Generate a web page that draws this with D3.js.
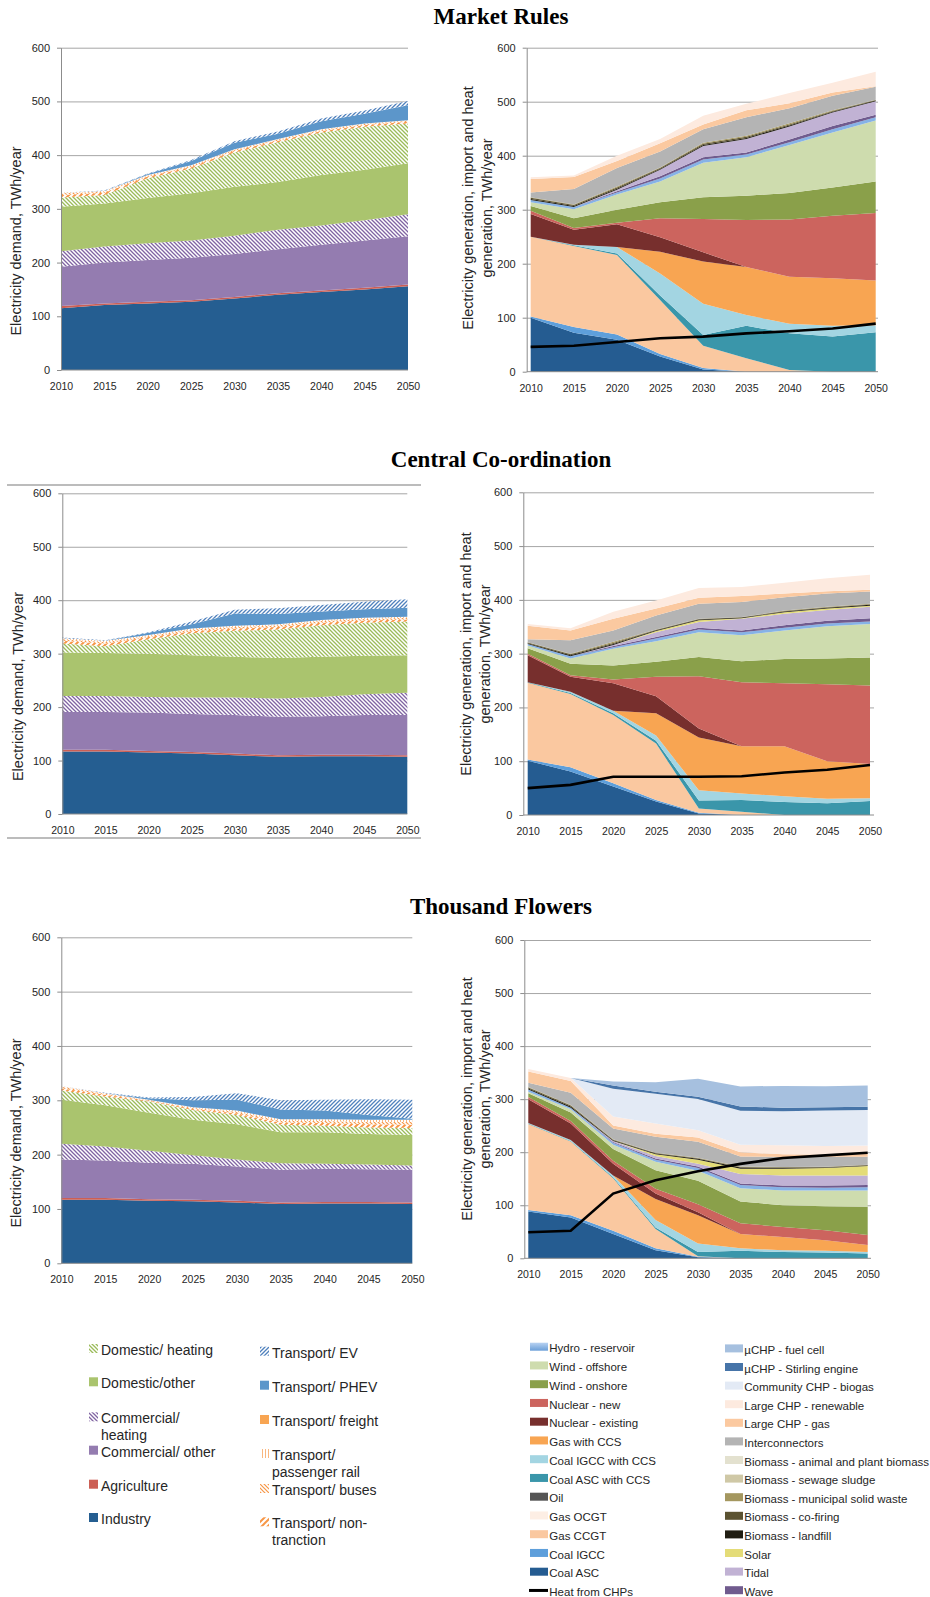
<!DOCTYPE html>
<html>
<head>
<meta charset="utf-8">
<script src="https://cdn.jsdelivr.net/npm/d3@7"></script>
<style>
  body { margin: 0; background: #fff; }
  svg text { font-family: "Liberation Sans", Arial, sans-serif; fill: #262626; }
  .title { font-family: "Liberation Serif", "Times New Roman", serif; font-weight: bold; fill: #000; }
</style>
</head>
<body>
<svg id="chart" width="930" height="1597"></svg>
<script>
// ---- data (TWh/year) ----
const years = [2010, 2015, 2020, 2025, 2030, 2035, 2040, 2045, 2050];
const scenarioTitles = ["Market Rules", "Central Co-ordination", "Thousand Flowers"];

// demand series, stack order bottom -> top
const demandNames = ["Industry", "Agriculture", "Commercial/ other", "Commercial/ heating",
  "Domestic/other", "Domestic/ heating", "Transport/ non-tranction", "Transport/ buses",
  "Transport/ passenger rail", "Transport/ freight", "Transport/ PHEV", "Transport/ EV"];

const mrDemand = [
  [115, 121, 124, 127, 133, 140, 145, 150, 156], // Industry
  [4, 3, 3, 3, 3, 3, 3, 3, 3],                   // Agriculture
  [73, 76, 78, 79, 80, 82, 85, 88, 90],          // Commercial/ other
  [29, 30, 31, 32, 34, 36, 36, 38, 41],          // Commercial/ heating
  [83, 80, 84, 88, 91, 89, 94, 94, 95],          // Domestic/other
  [17, 16, 37, 46, 64, 74, 79, 80, 74],          // Domestic/ heating
  [5, 4, 3, 3, 3, 3, 3, 3, 3],                   // non-traction
  [3, 2, 2, 2, 2, 2, 2, 2, 2],                   // buses
  [1, 1, 1, 1, 1, 1, 1, 1, 1],                   // passenger rail
  [0, 0, 0, 0, 0, 0, 0, 0, 0],                   // freight
  [0, 0, 2, 8, 12, 10, 15, 18, 28],              // PHEV
  [0, 1, 1, 2, 3, 4, 5, 6, 8]                    // EV
];
const ccDemand = [
  [117, 117, 115, 113, 110, 107, 108, 108, 107],
  [3, 3, 3, 3, 3, 3, 3, 3, 3],
  [71, 71, 72, 71, 72, 72, 72, 74, 75],
  [30, 30, 29, 31, 33, 34, 36, 39, 42],
  [81, 80, 81, 79, 76, 76, 75, 72, 70],
  [17, 13, 27, 41, 49, 53, 59, 62, 63],
  [5, 5, 4, 4, 4, 5, 5, 4, 4],
  [3, 3, 2, 3, 3, 3, 3, 3, 3],
  [2, 2, 2, 2, 2, 2, 2, 2, 2],
  [0, 0, 0, 0, 0, 0, 0, 0, 0],
  [0, 0, 4, 8, 23, 19, 16, 16, 17],
  [1, 1, 1, 5, 7, 11, 12, 14, 16]
];
const tfDemand = [
  [117, 117, 115, 114, 112, 109, 110, 110, 109],
  [3, 3, 3, 3, 3, 3, 3, 3, 3],
  [71, 69, 67, 66, 63, 60, 61, 60, 60],
  [29, 26, 22, 16, 13, 12, 9, 9, 8],
  [81, 76, 70, 65, 65, 57, 58, 56, 56],
  [17, 16, 21, 18, 17, 14, 12, 12, 13],
  [4, 3, 1, 2, 3, 4, 5, 6, 6],
  [3, 2, 1, 2, 3, 3, 4, 4, 5],
  [1, 1, 1, 1, 2, 3, 3, 4, 4],
  [0, 0, 0, 0, 0, 0, 0, 0, 0],
  [0, 0, 3, 13, 20, 18, 16, 9, 2],
  [0, 1, 1, 6, 12, 17, 20, 29, 35]
];

// generation series, stack order bottom -> top
const genNames = ["Coal ASC", "Coal IGCC", "Gas CCGT", "Gas OCGT", "Oil", "Coal ASC with CCS",
  "Coal IGCC with CCS", "Gas with CCS", "Nuclear - existing", "Nuclear - new", "Wind - onshore",
  "Wind - offshore", "Hydro - reservoir", "Wave", "Tidal", "Solar", "Biomass - landfill",
  "Biomass - co-firing", "Biomass - municipal solid waste", "Biomass - sewage sludge",
  "Biomass - animal and plant biomass", "Interconnectors", "Large CHP - gas",
  "Large CHP - renewable", "Community CHP - biogas", "\u00b5CHP - Stirling engine", "\u00b5CHP - fuel cell"];

const mrGen = [
  [100, 72, 59, 28, 4, 0, 0, 0, 0],      // Coal ASC
  [2, 11, 10, 5, 3, 0, 0, 0, 0],         // Coal IGCC
  [148, 150, 147, 100, 41, 25, 3, 0, 0], // Gas CCGT
  [0, 0, 0, 0, 0, 0, 0, 0, 0],           // Gas OCGT
  [0, 0, 0, 0, 0, 0, 0, 0, 0],           // Oil
  [0, 1, 3, 8, 20, 60, 68, 65, 73],      // Coal ASC CCS
  [0, 1, 12, 41, 58, 20, 18, 20, 13],    // Coal IGCC CCS
  [0, 0, 0, 40, 78, 89, 87, 88, 83],     // Gas CCS
  [42, 28, 42, 27, 17, 0, 0, 0, 0],      // Nuclear existing
  [6, 3, 3, 35, 62, 87, 106, 116, 125],  // Nuclear new
  [9, 18, 24, 30, 40, 45, 49, 52, 58],   // Wind onshore
  [7, 17, 28, 38, 64, 71, 89, 102, 113], // Wind offshore
  [4, 4, 4, 6, 6, 5, 5, 6, 6],           // Hydro
  [0, 0, 2, 4, 4, 4, 5, 6, 5],           // Wave
  [0, 0, 3, 12, 21, 25, 24, 25, 25],     // Tidal
  [0, 0, 0, 0, 0, 0, 0, 0, 0],           // Solar
  [2, 2, 2, 1.5, 2, 2, 2, 1.5, 1],       // Biomass landfill
  [2, 1.5, 2, 1.5, 2, 2, 2, 1.5, 1],     // Biomass co-firing
  [1, 1, 2, 1, 2, 2, 2, 1, 0.5],         // Biomass MSW
  [0, 0, 0, 0, 0, 0, 0, 0, 0],           // Biomass sewage
  [0, 0, 0, 0, 0, 0, 0, 0, 0],           // Biomass animal/plant
  [9, 29, 34, 30, 25, 34, 28, 27, 24],   // Interconnectors
  [25, 22, 13, 15, 9, 13, 9, 6, 1],      // Large CHP gas
  [3, 3, 10, 8, 16, 12, 19, 18, 27],     // Large CHP renewable
  [0, 0, 0, 0, 0, 0, 0, 0, 0],           // Community CHP
  [0, 0, 0, 0, 0, 0, 0, 0, 0],           // uCHP Stirling
  [0, 0, 0, 0, 0, 0, 0, 0, 0]            // uCHP fuel cell
];
const ccGen = [
  [101, 81, 53, 25, 3, 0, 0, 0, 0],
  [2, 8, 6, 3, 1, 0, 0, 0, 0],
  [143, 136, 127, 105, 8, 6, 0, 0, 0],
  [0, 0, 0, 0, 0, 0, 0, 0, 0],
  [0, 0, 0, 0, 0, 0, 0, 0, 0],
  [1, 2, 3, 5, 15, 22, 24, 22, 26],
  [0, 2, 5, 10, 19, 12, 11, 8, 5],
  [0, 0, 0, 41, 98, 88, 93, 70, 64],
  [50, 28, 51, 32, 17, 0, 0, 0, 0],
  [3, 3, 7, 36, 97, 119, 117, 143, 146],
  [10, 21, 26, 28, 36, 39, 45, 48, 52],
  [5, 10, 31, 38, 46, 48, 53, 60, 62],
  [3, 4, 3, 5, 5, 6, 5, 5, 5],
  [0, 0, 2, 3, 3, 3, 5, 5, 6],
  [0, 0, 2, 9, 11, 22, 21, 20, 21],
  [0, 0, 0, 2, 3, 1, 3, 3, 2],
  [1.5, 2, 2, 1.5, 1.5, 1, 1.5, 1.5, 2],
  [1, 2, 2, 1, 1, 0.5, 1, 1, 1],
  [0.5, 1, 2, 0.5, 0.5, 0.5, 0.5, 0.5, 0.7],
  [0, 0, 0, 0, 0, 0, 0, 0, 0],
  [0, 0, 0, 0, 0, 0, 0, 0, 0],
  [6, 25, 21, 26, 28, 28, 25, 25, 23],
  [25, 18, 22, 13, 11, 11, 7, 4, 3],
  [3, 4, 13, 15, 18, 17, 20, 24, 28],
  [0, 0, 0, 0, 0, 0, 0, 0, 0],
  [0, 0, 0, 0, 0, 0, 0, 0, 0],
  [0, 0, 0, 0, 0, 0, 0, 0, 0]
];
const tfGen = [
  [88, 77, 46, 15, 2, 0, 0, 0, 0],
  [3, 4, 6, 4, 1, 0, 0, 0, 0],
  [162, 139, 99, 36, 1, 0, 0, 0, 0],
  [0, 0, 0, 0, 0, 0, 0, 0, 0],
  [0, 0, 0, 0, 0, 0, 0, 0, 0],
  [1, 1, 2, 3, 8, 14, 12, 11, 9],
  [1, 2, 3, 14, 16, 5, 3, 3, 3],
  [0, 0, 0, 40, 53, 27, 25, 20, 13],
  [45, 31, 22, 10, 6, 0, 0, 0, 0],
  [4, 5, 6, 9, 15, 20, 19, 19, 19],
  [7, 16, 22, 35, 44, 41, 41, 45, 53],
  [3, 6, 8, 16, 19, 25, 28, 30, 31],
  [4, 3, 4, 4, 5, 6, 6, 5, 6],
  [0, 0, 1, 2, 3, 3, 3, 4, 4],
  [0, 0, 2, 5, 5, 18, 19, 19, 18],
  [0, 0, 0, 3, 8, 10, 13, 14, 18],
  [2, 2, 1.5, 1.5, 1.5, 2, 1.5, 1, 1],
  [2, 2, 1, 1, 1, 1, 1, 1, 1],
  [1, 1, 1, 0.5, 1, 1, 0.5, 0.5, 0.5],
  [0, 0, 0, 0, 0, 0, 0, 0, 0],
  [0, 0, 0, 0, 0, 0, 0, 0, 0],
  [8, 23, 20, 30, 30, 19, 19, 19, 15],
  [21, 22, 6, 6, 8, 8, 5, 4, 5],
  [5, 6, 17, 19, 14, 14, 17, 16, 16],
  [0, 0, 52, 56, 59, 64, 64, 67, 67],
  [0, 0, 6, 4, 4, 8, 7, 6, 6],
  [0, 0, 8, 18, 34, 38, 41, 40, 40]
];

// heat from CHPs (line)
const mrHeat = [46, 48, 55, 62, 65, 71, 75, 80, 89];
const ccHeat = [50, 56, 71, 71, 71, 72, 79, 84, 93];
const tfHeat = [49, 52, 122, 147, 164, 178, 189, 194, 199];

// ---- styles ----
const demandFill = ["#255e91", "#cc5f55", "#947cb0", "url(#h-comm)", "#aac46e", "url(#h-dom)",
  "url(#h-nontrac)", "url(#h-bus)", "url(#h-rail)", "#f8a552", "#5c96ca", "url(#h-ev)"];

const genColor = ["#255c91", "#5e9fdb", "#fac8a0", "#fdeee4", "#555555", "#3a96aa",
  "#a3d5e2", "#f8a552", "#772f2d", "#cc645e", "#8aa04a", "#cedcae", "#86b2e6", "#705b8e",
  "#c1b2d4", "#e4dc78", "#201d12", "#5b5231", "#a4975f", "#cfc8a6", "#e3e1cf", "#b4b4b4",
  "#fbc9a0", "#fdeadf", "#e3eaf5", "#4674a8", "#a6c0df"];

// ---- layout (px) ----
const panels = [
  { title: scenarioTitles[0], titleY: 24.3, demand: mrDemand, gen: mrGen, heat: mrHeat,
    L: { x0: 61, x1: 408, top: 47.7, bot: 370, tx: 16, ty: 241 },
    R: { axis: 526.7, x0: 530.7, x1: 875.7, gridR: 878, top: 47.7, bot: 371.7, t1: 468, t2: 487, ty: 208 } },
  { title: scenarioTitles[1], titleY: 467.3, demand: ccDemand, gen: ccGen, heat: ccHeat,
    L: { x0: 62.3, x1: 407.3, top: 493.3, bot: 814, tx: 18, ty: 686.5 },
    R: { axis: 523.3, x0: 527.7, x1: 870, gridR: 874, top: 492.3, bot: 815, t1: 466, t2: 485, ty: 654 } },
  { title: scenarioTitles[2], titleY: 914.3, demand: tfDemand, gen: tfGen, heat: tfHeat,
    L: { x0: 61.3, x1: 412.3, top: 937.3, bot: 1263.3, tx: 16, ty: 1133 },
    R: { axis: 524.3, x0: 528.3, x1: 867.7, gridR: 871, top: 940, bot: 1258.3, t1: 466.7, t2: 485, ty: 1099 } }
];

const svg = d3.select("#chart");
const defs = svg.append("defs");

function addHatch(id, color, dir, size, sw) {
  const p = defs.append("pattern").attr("id", id)
    .attr("patternUnits", "userSpaceOnUse").attr("width", size).attr("height", size);
  p.append("rect").attr("width", size).attr("height", size).attr("fill", "#fff");
  const s = size;
  let d;
  if (dir === "/") d = `M0,${s} L${s},0 M${-s / 2},${s / 2} L${s / 2},${-s / 2} M${s / 2},${s * 1.5} L${s * 1.5},${s / 2}`;
  else if (dir === "\\") d = `M0,0 L${s},${s} M${-s / 2},${s / 2} L${s / 2},${s * 1.5} M${s / 2},${-s / 2} L${s * 1.5},${s / 2}`;
  else d = `M${s / 2},0 L${s / 2},${s}`;
  p.append("path").attr("d", d).attr("stroke", color).attr("stroke-width", sw).attr("fill", "none");
}
addHatch("h-dom", "#9bbb59", "\\", 4, 1.3);
addHatch("h-comm", "#8064a2", "\\", 4, 1.3);
addHatch("h-ev", "#4f81bd", "/", 4, 1.3);
addHatch("h-bus", "#f79646", "\\", 4, 1.2);
addHatch("h-nontrac", "#f79646", "/", 6, 2);
addHatch("h-rail", "#f9b780", "|", 3, 1);

const hydroGrad = defs.append("linearGradient").attr("id", "g-hydro")
  .attr("x1", 0).attr("y1", 0).attr("x2", 0).attr("y2", 1);
hydroGrad.append("stop").attr("offset", 0).attr("stop-color", "#b8d2f2");
hydroGrad.append("stop").attr("offset", 1).attr("stop-color", "#6a9ed8");

function stackRows(names, rows) {
  const data = years.map((yr, i) => {
    const o = { year: yr };
    names.forEach((n, k) => { o[n] = rows[k][i]; });
    return o;
  });
  return d3.stack().keys(names)(data);
}

function drawYAxis(g, y, axisX, gridR) {
  const ticks = d3.range(0, 601, 100);
  g.append("g").attr("transform", `translate(${axisX},0)`)
    .call(d3.axisLeft(y).tickValues(ticks.slice(1)).tickSize(-(gridR - axisX)).tickFormat(""))
    .call(a => a.select(".domain").remove())
    .call(a => a.selectAll("line").attr("stroke", "#a6a6a6"));
}

function drawAxesOnTop(g, x, y, axisX, gridR) {
  g.append("line").attr("x1", axisX).attr("x2", gridR).attr("y1", y(0)).attr("y2", y(0))
    .attr("stroke", "#8c8c8c");
  g.append("g").attr("transform", `translate(${axisX},0)`)
    .call(d3.axisLeft(y).tickValues(d3.range(0, 601, 100)).tickSize(4).tickSizeOuter(0).tickPadding(7))
    .call(a => a.select(".domain").attr("stroke", "#8c8c8c"))
    .call(a => a.selectAll("line").attr("stroke", "#8c8c8c"))
    .call(a => a.selectAll("text").attr("font-size", 11).attr("font-family", "Liberation Sans, Arial, sans-serif").attr("fill", "#262626"));
  g.append("g").attr("transform", `translate(0,${y(0)})`)
    .call(d3.axisBottom(x).tickValues(years).tickFormat(d3.format("d")).tickSize(0).tickPadding(12.5))
    .call(a => a.select(".domain").remove())
    .call(a => a.selectAll("text").attr("font-size", 10.5).attr("font-family", "Liberation Sans, Arial, sans-serif").attr("fill", "#262626"));
}

function yTitle(g, cx, cy, text) {
  g.append("text").attr("transform", `translate(${cx},${cy}) rotate(-90)`)
    .attr("text-anchor", "middle").attr("dy", "0.35em").attr("font-size", 14.5).text(text);
}

panels.forEach(p => {
  svg.append("text").attr("class", "title").attr("x", 501).attr("y", p.titleY)
    .attr("text-anchor", "middle").attr("font-size", 23).text(p.title);

  // demand chart
  const L = p.L;
  const gl = svg.append("g");
  const xl = d3.scaleLinear().domain([2010, 2050]).range([L.x0, L.x1]);
  const yl = d3.scaleLinear().domain([0, 600]).range([L.bot, L.top]);
  drawYAxis(gl, yl, L.x0, L.x1);
  const areaL = d3.area().x(d => xl(d.data.year)).y0(d => yl(d[0])).y1(d => yl(d[1]));
  gl.selectAll("path.layer").data(stackRows(demandNames, p.demand)).join("path")
    .attr("class", "layer").attr("d", areaL).attr("fill", (d, i) => demandFill[i]);
  drawAxesOnTop(gl, xl, yl, L.x0, L.x1);
  yTitle(gl, L.tx, L.ty, "Electricity demand, TWh/year");

  // generation chart
  const R = p.R;
  const gr = svg.append("g");
  const xr = d3.scaleLinear().domain([2010, 2050]).range([R.x0, R.x1]);
  const yr = d3.scaleLinear().domain([0, 600]).range([R.bot, R.top]);
  drawYAxis(gr, yr, R.axis, R.gridR);
  const areaR = d3.area().x(d => xr(d.data.year)).y0(d => yr(d[0])).y1(d => yr(d[1]));
  gr.selectAll("path.layer").data(stackRows(genNames, p.gen)).join("path")
    .attr("class", "layer").attr("d", areaR).attr("fill", (d, i) => genColor[i]);
  gr.append("path").datum(p.heat)
    .attr("d", d3.line().x((d, i) => xr(years[i])).y(d => yr(d)))
    .attr("fill", "none").attr("stroke", "#000").attr("stroke-width", 2.6);
  drawAxesOnTop(gr, xr, yr, R.axis, R.gridR);
  yTitle(gr, R.t1, R.ty, "Electricity generation, import and heat");
  yTitle(gr, R.t2, R.ty, "generation, TWh/year");
});

// frame lines round the Central Co-ordination demand chart
[485, 838].forEach(yy => svg.append("line").attr("x1", 7).attr("x2", 421).attr("y1", yy).attr("y2", yy)
  .attr("stroke", "#a6a6a6").attr("stroke-width", 1.5));

// ---- demand legend ----
const demandLegend = [
  { k: 5, x: 89, y: 1355, lines: ["Domestic/ heating"] },
  { k: 4, x: 89, y: 1388.3, lines: ["Domestic/other"] },
  { k: 3, x: 89, y: 1423.3, lines: ["Commercial/", "heating"] },
  { k: 2, x: 89, y: 1456.7, lines: ["Commercial/ other"] },
  { k: 1, x: 89, y: 1490.7, lines: ["Agriculture"] },
  { k: 0, x: 89, y: 1524, lines: ["Industry"] },
  { k: 11, x: 260, y: 1357.7, lines: ["Transport/ EV"] },
  { k: 10, x: 260, y: 1391.7, lines: ["Transport/ PHEV"] },
  { k: 9, x: 260, y: 1426, lines: ["Transport/ freight"] },
  { k: 8, x: 260, y: 1460, lines: ["Transport/", "passenger rail"] },
  { k: 7, x: 260, y: 1495, lines: ["Transport/ buses"] },
  { k: 6, x: 260, y: 1528.3, lines: ["Transport/ non-", "tranction"] }
];
const dl = svg.append("g");
demandLegend.forEach(it => {
  dl.append("rect").attr("x", it.x).attr("y", it.y - 11).attr("width", 9).attr("height", 9)
    .attr("fill", demandFill[it.k]);
  const t = dl.append("text").attr("x", it.x + 12).attr("y", it.y).attr("font-size", 14);
  it.lines.forEach((ln, j) => t.append("tspan").attr("x", it.x + 12).attr("dy", j ? 17 : 0).text(ln));
});

// ---- generation legend ----
const gl2 = svg.append("g");
const col1 = d3.range(12, -1, -1);
const col2 = d3.range(26, 12, -1);
col1.forEach((k, i) => {
  const cy = 1348.3 + i * 18.75;
  gl2.append("rect").attr("x", 530).attr("y", cy - 5.6).attr("width", 18).attr("height", 8)
    .attr("fill", k === 12 ? "url(#g-hydro)" : genColor[k]);
  gl2.append("text").attr("x", 549.3).attr("y", cy + 4).attr("font-size", 11.5).text(genNames[k]);
});
{
  const cy = 1348.3 + 13 * 18.75;
  gl2.append("line").attr("x1", 529).attr("x2", 548).attr("y1", cy - 1.6).attr("y2", cy - 1.6)
    .attr("stroke", "#000").attr("stroke-width", 3);
  gl2.append("text").attr("x", 549.3).attr("y", cy + 4).attr("font-size", 11.5).text("Heat from CHPs");
}
col2.forEach((k, i) => {
  const cy = 1350 + i * 18.6;
  gl2.append("rect").attr("x", 725).attr("y", cy - 5.6).attr("width", 18).attr("height", 8)
    .attr("fill", genColor[k]);
  gl2.append("text").attr("x", 744.3).attr("y", cy + 4).attr("font-size", 11.5).text(genNames[k]);
});
</script>
</body>
</html>
